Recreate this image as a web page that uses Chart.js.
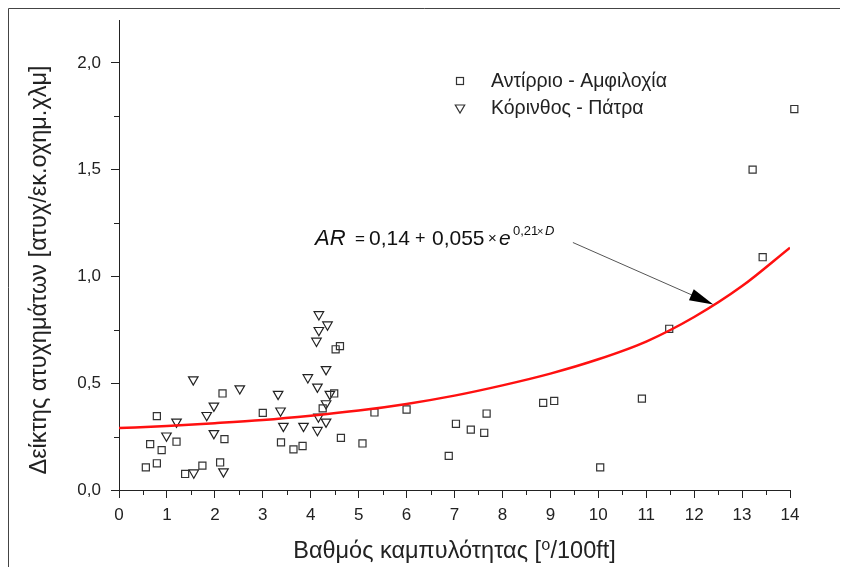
<!DOCTYPE html>
<html>
<head>
<meta charset="utf-8">
<script src="https://cdn.jsdelivr.net/npm/chart.js@4"></script>
<style>
  body { margin: 0; background: #fff; }
  canvas { display: block; }
</style>
</head>
<body>
<canvas id="graph-one" width="849" height="577"></canvas>
<script>
// Αντίρριο - Αμφιλοχία (squares)
var antirrioX = [0.56, 0.65, 0.79, 0.79, 0.89, 1.20, 1.38, 1.74, 2.11, 2.16, 2.20, 3.00,
  3.38, 3.64, 3.83, 4.25, 4.49, 4.52, 4.61, 4.63, 5.08, 5.33, 6.00, 6.88, 7.03, 7.34,
  7.62, 7.67, 8.85, 9.08, 10.04, 10.91, 11.48, 13.22, 13.43, 14.09];
var antirrioY = [0.106, 0.215, 0.346, 0.125, 0.187, 0.226, 0.075, 0.114, 0.129, 0.452, 0.238, 0.361,
  0.223, 0.19, 0.206, 0.382, 0.452, 0.659, 0.674, 0.244, 0.218, 0.363, 0.377, 0.16, 0.31, 0.283,
  0.268, 0.358, 0.408, 0.417, 0.106, 0.428, 0.755, 1.5, 1.09, 1.784];

// Κόρινθος - Πάτρα (triangles)
var korinthosX = [0.99, 1.20, 1.55, 1.56, 1.83, 1.98, 1.98, 2.18, 2.52, 3.32, 3.37, 3.43,
  3.85, 3.94, 4.12, 4.14, 4.14, 4.16, 4.17, 4.17, 4.32, 4.32, 4.32, 4.35, 4.40];
var korinthosY = [0.254, 0.319, 0.517, 0.081, 0.35, 0.394, 0.265, 0.086, 0.475, 0.449, 0.371, 0.299,
  0.299, 0.527, 0.698, 0.483, 0.28, 0.343, 0.822, 0.748, 0.565, 0.405, 0.319, 0.774, 0.449];

// red fitted curve
var fitX = [0, 1, 2, 3, 4, 5, 6, 7, 8, 9, 10, 11, 12, 13, 14];
var fitY = [0.29, 0.30, 0.313, 0.328, 0.348, 0.372, 0.403, 0.442, 0.49, 0.545, 0.612, 0.695, 0.81, 0.955, 1.135];

var xMajor = [0, 1, 2, 3, 4, 5, 6, 7, 8, 9, 10, 11, 12, 13, 14];
var yMajor = [0, 0.5, 1.0, 1.5, 2.0];

var legendNames = ["Αντίρριο - Αμφιλοχία", "Κόρινθος - Πάτρα"];
var xTitle = "Βαθμός καμπυλότητας [⁰/100ft]";
var yTitle = "Δείκτης ατυχημάτων [ατυχ/εκ.οχημ.χλμ]";

var FONT = "'Liberation Sans', Arial, 'DejaVu Sans', sans-serif";

function toPoints(xs, ys) {
  return xs.map(function (x, i) { return { x: x, y: ys[i] }; });
}

function drawSquare(ctx, x, y) {
  ctx.strokeRect(x - 3.5, y - 3.5, 7, 7);
}
function drawTriangle(ctx, x, y) {
  ctx.beginPath();
  ctx.moveTo(x - 4.7, y - 3);
  ctx.lineTo(x + 4.7, y - 3);
  ctx.lineTo(x, y + 5);
  ctx.closePath();
  ctx.stroke();
}

var extras = {
  id: "extras",
  afterDraw: function (chart) {
    var ctx = chart.ctx;
    var xs = chart.scales.x, ys = chart.scales.y;
    var area = chart.chartArea;
    ctx.save();

    // frame of the figure
    ctx.strokeStyle = "#444";
    ctx.lineWidth = 1;
    ctx.beginPath();
    ctx.moveTo(8.5, 567);
    ctx.lineTo(8.5, 8.5);
    ctx.lineTo(840, 8.5);
    ctx.stroke();

    // minor ticks
    ctx.strokeStyle = "#222";
    ctx.beginPath();
    for (var v = 0.5; v < 14; v += 1) {
      var px = Math.round(xs.getPixelForValue(v)) + 0.5;
      ctx.moveTo(px, area.bottom);
      ctx.lineTo(px, area.bottom + 5);
    }
    for (var w = 0.25; w < 2.1; w += 0.5) {
      var py = Math.round(ys.getPixelForValue(w)) + 0.5;
      ctx.moveTo(area.left, py);
      ctx.lineTo(area.left - 5, py);
    }
    ctx.stroke();

    // y axis title
    ctx.fillStyle = "#222";
    ctx.font = "23.5px " + FONT;
    ctx.textAlign = "center";
    ctx.textBaseline = "middle";
    ctx.translate(40, 270);
    ctx.rotate(-Math.PI / 2);
    ctx.fillText(yTitle, 0, 0);
    ctx.setTransform(1, 0, 0, 1, 0, 0);

    // legend
    ctx.lineWidth = 1.2;
    ctx.strokeStyle = "#333";
    drawSquare(ctx, 460, 81);
    drawTriangle(ctx, 460, 108);
    ctx.font = "19.5px " + FONT;
    ctx.textAlign = "left";
    ctx.fillStyle = "#222";
    ctx.fillText(legendNames[0], 491, 82);
    ctx.fillText(legendNames[1], 491, 109);

    // equation
    var base = 245;
    ctx.textBaseline = "alphabetic";
    ctx.fillStyle = "#111";
    ctx.font = "italic 22px " + FONT;
    ctx.fillText("AR", 315, base);
    ctx.font = "17px " + FONT;
    ctx.fillText("=", 355, base - 1);
    ctx.font = "21px " + FONT;
    ctx.fillText("0,14", 369, base);
    ctx.font = "18px " + FONT;
    ctx.fillText("+", 415, base - 1);
    ctx.font = "21px " + FONT;
    ctx.fillText("0,055", 432, base);
    ctx.font = "15px " + FONT;
    ctx.fillText("×", 488, base - 2);
    ctx.font = "italic 21px " + FONT;
    ctx.fillText("e", 499, base);
    ctx.font = "13px " + FONT;
    ctx.fillText("0,21", 513, base - 10);
    ctx.font = "11px " + FONT;
    ctx.fillText("×", 537, base - 10);
    ctx.font = "italic 13px " + FONT;
    ctx.fillText("D", 545, base - 10);

    // arrow pointing to the curve
    var x0 = xs.getPixelForValue(9.47), y0 = ys.getPixelForValue(1.159);
    var x1 = xs.getPixelForValue(12.4), y1 = ys.getPixelForValue(0.869);
    var ang = Math.atan2(y1 - y0, x1 - x0);
    ctx.strokeStyle = "#555";
    ctx.lineWidth = 1;
    ctx.beginPath();
    ctx.moveTo(x0, y0);
    ctx.lineTo(x1 - 20 * Math.cos(ang), y1 - 20 * Math.sin(ang));
    ctx.stroke();
    ctx.fillStyle = "#000";
    ctx.beginPath();
    ctx.moveTo(x1, y1);
    ctx.lineTo(x1 - 24 * Math.cos(ang) + 6 * Math.sin(ang), y1 - 24 * Math.sin(ang) - 6 * Math.cos(ang));
    ctx.lineTo(x1 - 24 * Math.cos(ang) - 6 * Math.sin(ang), y1 - 24 * Math.sin(ang) + 6 * Math.cos(ang));
    ctx.closePath();
    ctx.fill();

    ctx.restore();
  },
};

var ctx = document.getElementById("graph-one").getContext("2d");
var myChart = new Chart(ctx, {
  type: "scatter",
  data: {
    datasets: [
      {
        type: "line",
        label: "fit",
        data: toPoints(fitX, fitY),
        borderColor: "#ff1010",
        borderWidth: 2.5,
        pointRadius: 0,
        cubicInterpolationMode: "monotone",
        fill: false,
        order: 0,
      },
      {
        label: legendNames[0],
        data: toPoints(antirrioX, antirrioY),
        pointStyle: "rect",
        pointRadius: 5,
        borderColor: "#333",
        borderWidth: 1.2,
        backgroundColor: "transparent",
        clip: false,
        order: 1,
      },
      {
        label: legendNames[1],
        data: toPoints(korinthosX, korinthosY),
        pointStyle: "triangle",
        rotation: 180,
        pointRadius: 5.5,
        borderColor: "#222",
        borderWidth: 1.2,
        backgroundColor: "transparent",
        clip: false,
        order: 2,
      },
    ],
  },
  options: {
    responsive: false,
    animation: false,
    devicePixelRatio: 1,
    layout: { padding: { left: 0, top: 19, right: 59, bottom: 0 } },
    plugins: { legend: { display: false }, tooltip: { enabled: false } },
    scales: {
      x: {
        type: "linear",
        min: 0,
        max: 14,
        afterBuildTicks: function (scale) {
          scale.ticks = xMajor.map(function (v) { return { value: v }; });
        },
        afterFit: function (scale) { scale.height = 87; },
        ticks: {
          padding: 7,
          color: "#222",
          font: { size: 17, family: FONT },
          maxRotation: 0,
          callback: function (v) { return String(v); },
        },
        grid: { drawOnChartArea: false, drawTicks: true, tickLength: 8, color: "#222" },
        border: { display: true, color: "#222", width: 1 },
        title: {
          display: true,
          text: xTitle,
          color: "#222",
          font: { size: 23.5, family: FONT },
          padding: { top: 0, bottom: 11 },
        },
      },
      y: {
        type: "linear",
        min: 0,
        max: 2.2,
        afterBuildTicks: function (scale) {
          scale.ticks = yMajor.map(function (v) { return { value: v }; });
        },
        afterFit: function (scale) { scale.width = 119; },
        ticks: {
          padding: 10,
          color: "#222",
          font: { size: 17, family: FONT },
          callback: function (v) { return v.toFixed(1).replace(".", ","); },
        },
        grid: { drawOnChartArea: false, drawTicks: true, tickLength: 8, color: "#222" },
        border: { display: true, color: "#222", width: 1 },
      },
    },
  },
  plugins: [extras],
});
</script>
</body>
</html>
